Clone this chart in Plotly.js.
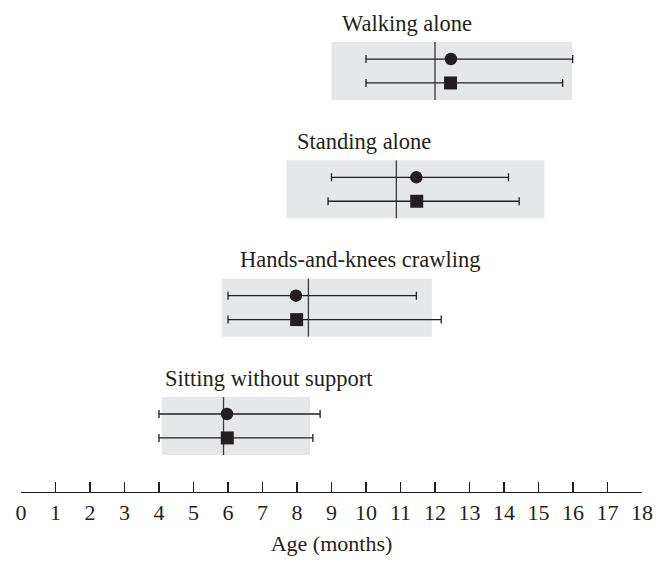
<!DOCTYPE html>
<html>
<head>
<meta charset="utf-8">
<script src="https://cdn.plot.ly/plotly-3.0.1.min.js"></script>
<style>
  html, body { margin: 0; padding: 0; background: #ffffff; }
  #chart { width: 665px; height: 561px; }
</style>
</head>
<body>
<div id="chart"></div>
<script>
// ---- Data (ages in months) ----
const milestones = ["Sitting without support", "Hands-and-knees crawling", "Standing alone", "Walking alone"];
const circleMean = [5.97, 7.97, 11.46, 12.46];
const circleLow  = [4.0, 6.0, 9.0, 10.0];
const circleHigh = [8.67, 11.46, 14.13, 15.99];
const squareMean = [5.98, 7.99, 11.47, 12.45];
const squareLow  = [4.0, 6.0, 8.9, 10.0];
const squareHigh = [8.46, 12.18, 14.44, 15.7];
const boxStart   = [4.08, 5.82, 7.69, 9.0];
const boxEnd     = [8.38, 11.91, 15.17, 15.97];
const refLine    = [5.87, 8.33, 10.88, 12.0];
const labelStart = [4.12, 6.29, 7.95, 9.25];
const tickVals   = [0,1,2,3,4,5,6,7,8,9,10,11,12,13,14,15,16,17,18];
const tickText   = ["0","1","2","3","4","5","6","7","8","9","10","11","12","13","14","15","16","17","18"];

// ---- Layout helpers ----
const INK = "#231f20";
const FONT = "Liberation Serif, Times New Roman, serif";
const ROW_OFF = 0.101;   // offset of circle/square rows from group centre
const BOX_HALF = 0.245;  // half height of grey box
const LABEL_OFF = 0.405; // label above group centre

const idx = milestones.map((_, i) => i);

const circleTrace = {
  type: "scatter", mode: "markers",
  x: circleMean,
  y: idx.map(i => i + ROW_OFF),
  marker: { symbol: "circle", size: 12.5, color: INK },
  error_x: {
    type: "data", symmetric: false,
    array: circleHigh.map((h, i) => h - circleMean[i]),
    arrayminus: circleLow.map((l, i) => circleMean[i] - l),
    color: INK, thickness: 1.3, width: 4
  },
  hoverinfo: "skip", showlegend: false
};

const squareTrace = {
  type: "scatter", mode: "markers",
  x: squareMean,
  y: idx.map(i => i - ROW_OFF),
  marker: { symbol: "square", size: 13, color: INK },
  error_x: {
    type: "data", symmetric: false,
    array: squareHigh.map((h, i) => h - squareMean[i]),
    arrayminus: squareLow.map((l, i) => squareMean[i] - l),
    color: INK, thickness: 1.3, width: 4
  },
  hoverinfo: "skip", showlegend: false
};

const shapes = [];
idx.forEach(i => {
  shapes.push({
    type: "rect", xref: "x", yref: "y", layer: "below",
    x0: boxStart[i], x1: boxEnd[i],
    y0: i - BOX_HALF, y1: i + BOX_HALF,
    fillcolor: "#e6e7e8", line: { width: 0 }
  });
  shapes.push({
    type: "line", xref: "x", yref: "y", layer: "below",
    x0: refLine[i], x1: refLine[i],
    y0: i - BOX_HALF, y1: i + BOX_HALF,
    line: { color: "#3a3a3a", width: 1.3 }
  });
});

const annotations = idx.map(i => ({
  x: labelStart[i], y: i + LABEL_OFF, xref: "x", yref: "y",
  text: milestones[i], showarrow: false,
  xanchor: "left", yanchor: "middle",
  font: { family: FONT, size: 22.5, color: INK }
}));

const layout = {
  width: 665, height: 561,
  margin: { l: 21, r: 23, t: 0, b: 69, pad: 0 },
  paper_bgcolor: "#ffffff", plot_bgcolor: "#ffffff",
  font: { family: FONT, color: INK },
  xaxis: {
    range: [0, 18],
    tickmode: "array", tickvals: tickVals, ticktext: tickText,
    ticks: "inside", ticklen: 10, tickwidth: 1.3, tickcolor: INK,
    showline: true, linecolor: INK, linewidth: 1.3,
    showgrid: false, zeroline: false,
    tickfont: { family: FONT, size: 22, color: INK },
    title: { text: "Age (months)", font: { family: FONT, size: 22, color: INK }, standoff: 12 },
    fixedrange: true
  },
  yaxis: {
    range: [-0.558, 3.6],
    showticklabels: false, showgrid: false, zeroline: false, showline: false,
    ticks: "", fixedrange: true
  },
  shapes: shapes,
  annotations: annotations,
  showlegend: false
};

Plotly.newPlot("chart", [circleTrace, squareTrace], layout, { displayModeBar: false, staticPlot: true });
</script>
</body>
</html>
